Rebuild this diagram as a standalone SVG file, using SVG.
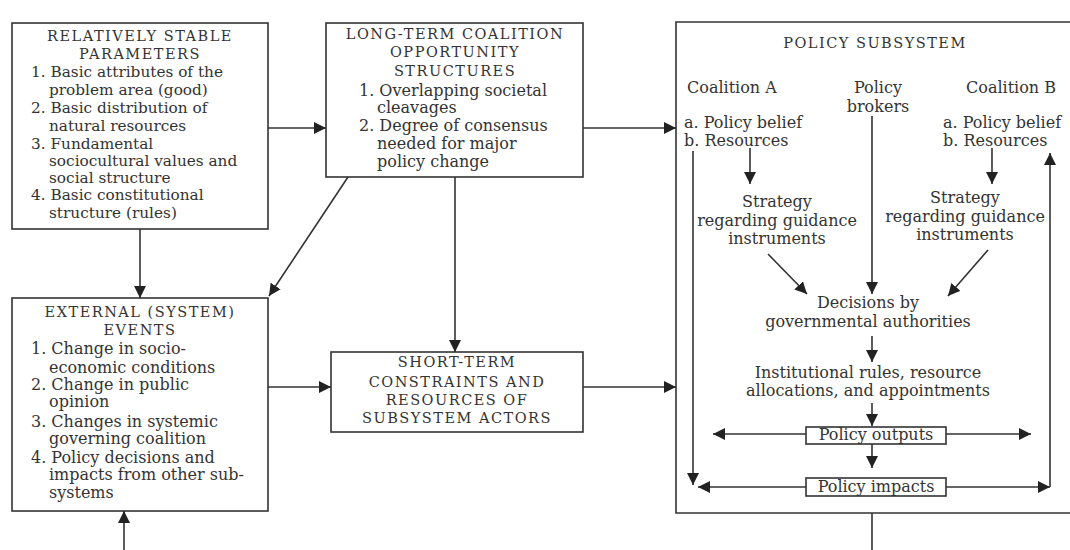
<svg xmlns="http://www.w3.org/2000/svg" width="1070" height="550" viewBox="0 0 1070 550">
<style>
text{font-family:"DejaVu Serif","Liberation Serif",serif;font-size:16px;fill:#333}
.h{font-size:14.5px;letter-spacing:1.5px}
.s{font-size:15.3px}
.c{text-anchor:middle}
.box{fill:#fff;stroke:#333;stroke-width:1.6}
.ln{fill:none;stroke:#333;stroke-width:1.6}
.ar{marker-end:url(#ah)}
</style>
<defs>
<marker id="ah" markerUnits="userSpaceOnUse" markerWidth="12" markerHeight="12" viewBox="0 0 12 12" refX="12" refY="6" orient="auto">
<path d="M0,0 L12,6 L0,12 z" fill="#222"/>
</marker>
</defs>
<rect width="1070" height="550" fill="#fff"/>
<g id="stable">
<rect class="box" x="12" y="23" width="256" height="206"/>
<text class="h c" x="140" y="41">RELATIVELY STABLE</text>
<text class="h c" x="140" y="59">PARAMETERS</text>
<text class="s" x="31" y="77">1. Basic attributes of the</text>
<text class="s" x="49" y="95">problem area (good)</text>
<text class="s" x="31" y="113">2. Basic distribution of</text>
<text class="s" x="49" y="131">natural resources</text>
<text class="s" x="31" y="149">3. Fundamental</text>
<text class="s" x="49" y="166">sociocultural values and</text>
<text class="s" x="49" y="183">social structure</text>
<text class="s" x="31" y="200">4. Basic constitutional</text>
<text class="s" x="49" y="218">structure (rules)</text>
</g>
<g id="longterm">
<rect class="box" x="326" y="23" width="257" height="154"/>
<text class="h c" x="455" y="39">LONG-TERM COALITION</text>
<text class="h c" x="455" y="57">OPPORTUNITY</text>
<text class="h c" x="455" y="76">STRUCTURES</text>
<text x="359" y="96">1. Overlapping societal</text>
<text x="377" y="113">cleavages</text>
<text x="359" y="131">2. Degree of consensus</text>
<text x="377" y="149">needed for major</text>
<text x="377" y="167">policy change</text>
</g>
<g id="external">
<rect class="box" x="12" y="298" width="256" height="213"/>
<text class="h c" x="140" y="317">EXTERNAL (SYSTEM)</text>
<text class="h c" x="140" y="335">EVENTS</text>
<text x="31" y="354">1. Change in socio-</text>
<text x="49" y="373">economic conditions</text>
<text x="31" y="390">2. Change in public</text>
<text x="49" y="407">opinion</text>
<text x="31" y="427">3. Changes in systemic</text>
<text x="49" y="444">governing coalition</text>
<text x="31" y="463">4. Policy decisions and</text>
<text x="49" y="480">impacts from other sub-</text>
<text x="49" y="498">systems</text>
</g>
<g id="shortterm">
<rect class="box" x="331" y="352" width="252" height="80"/>
<text class="h c" x="457" y="367">SHORT-TERM</text>
<text class="h c" x="457" y="387">CONSTRAINTS AND</text>
<text class="h c" x="457" y="405">RESOURCES OF</text>
<text class="h c" x="457" y="423">SUBSYSTEM ACTORS</text>
</g>
<g id="subsystem">
<path class="box" d="M1075,22 H676 V513 H1075"/>
<text class="h c" x="875" y="48">POLICY SUBSYSTEM</text>
<text x="687" y="93">Coalition A</text>
<text class="c" x="878" y="93">Policy</text>
<text class="c" x="878" y="112">brokers</text>
<text x="966" y="93">Coalition B</text>
<text x="684" y="128">a. Policy belief</text>
<text x="684" y="146">b. Resources</text>
<text x="943" y="128">a. Policy belief</text>
<text x="943" y="146">b. Resources</text>
<text class="c" x="777" y="207">Strategy</text>
<text class="c" x="777" y="226">regarding guidance</text>
<text class="c" x="777" y="244">instruments</text>
<text class="c" x="965" y="203">Strategy</text>
<text class="c" x="965" y="222">regarding guidance</text>
<text class="c" x="965" y="240">instruments</text>
<text class="c" x="868" y="308">Decisions by</text>
<text class="c" x="868" y="327">governmental authorities</text>
<text class="c" x="868" y="378">Institutional rules, resource</text>
<text class="c" x="868" y="396">allocations, and appointments</text>
</g>
<g id="outputs">
<rect class="box" x="806" y="427" width="140" height="17"/>
<text class="c" x="876" y="440">Policy outputs</text>
</g>
<g id="impacts">
<rect class="box" x="806" y="478" width="140" height="18"/>
<text class="c" x="876" y="492">Policy impacts</text>
</g>
<g id="connectors">
<path class="ln ar" d="M268,128 H326"/>
<path class="ln ar" d="M583,128 H676"/>
<path class="ln ar" d="M140,229 V298"/>
<path class="ln ar" d="M348,177 L269,296"/>
<path class="ln ar" d="M455,177 V352"/>
<path class="ln ar" d="M268,387 H331"/>
<path class="ln ar" d="M583,387 H676"/>
<path class="ln ar" d="M124,550 V511"/>
<path class="ln" d="M872,513 V550"/>
<path class="ln ar" d="M750,148 V184"/>
<path class="ln ar" d="M992,148 V184"/>
<path class="ln ar" d="M872,116 V294"/>
<path class="ln ar" d="M768,254 L807,294"/>
<path class="ln ar" d="M988,250 L948,296"/>
<path class="ln ar" d="M872,336 V362"/>
<path class="ln ar" d="M872,403 V426"/>
<path class="ln ar" d="M806,434 H713"/>
<path class="ln ar" d="M946,434 H1031"/>
<path class="ln ar" d="M872,444 V468"/>
<path class="ln ar" d="M806,487 H698"/>
<path class="ln ar" d="M946,487 H1050"/>
<path class="ln ar" d="M693,151 V485"/>
<path class="ln ar" d="M1050,487 V153"/>
</g>
</svg>
